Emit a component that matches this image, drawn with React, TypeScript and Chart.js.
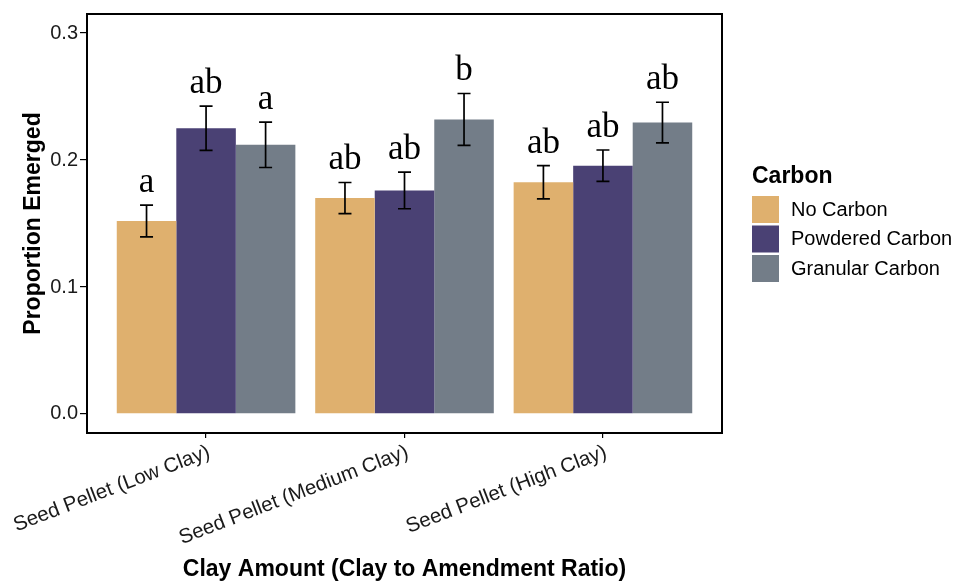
import React, { useEffect, useRef } from "react";
import { Chart, registerables } from "chart.js";

Chart.register(...registerables);

const categories = ["Seed Pellet (Low Clay)", "Seed Pellet (Medium Clay)", "Seed Pellet (High Clay)"];
const seriesNames = ["No Carbon", "Powdered Carbon", "Granular Carbon"];
const seriesColors = ["#DFB06E", "#4A4174", "#737D88"];

const noCarbon = [0.152, 0.170, 0.1825];
const powderedCarbon = [0.225, 0.176, 0.1955];
const granularCarbon = [0.212, 0.232, 0.2295];

const noCarbonSE = [0.0125, 0.0123, 0.0131];
const powderedCarbonSE = [0.0174, 0.0144, 0.0124];
const granularCarbonSE = [0.0179, 0.0204, 0.016];

const noCarbonLetters = ["a", "ab", "ab"];
const powderedCarbonLetters = ["ab", "ab", "ab"];
const granularCarbonLetters = ["a", "b", "ab"];

const yTicks = [0, 0.1, 0.2, 0.3];

const values = [noCarbon, powderedCarbon, granularCarbon];
const ses = [noCarbonSE, powderedCarbonSE, granularCarbonSE];
const letters = [noCarbonLetters, powderedCarbonLetters, granularCarbonLetters];

const SANS = '"Liberation Sans", Arial, sans-serif';
const SERIF = '"Liberation Serif", "Times New Roman", serif';

const overlayPlugin = {
  id: "overlay",
  afterDatasetsDraw(chart: any) {
    const { ctx, chartArea, scales } = chart;
    const yScale = scales.y;
    ctx.save();
    values.forEach((series, di) => {
      const meta = chart.getDatasetMeta(di);
      series.forEach((v, i) => {
        const bar = meta.data[i];
        const x = bar.x;
        const hi = yScale.getPixelForValue(v + ses[di][i]);
        const lo = yScale.getPixelForValue(v - ses[di][i]);
        ctx.strokeStyle = "#000";
        ctx.lineWidth = 1.7;
        ctx.beginPath();
        ctx.moveTo(x, hi);
        ctx.lineTo(x, lo);
        ctx.moveTo(x - 6.5, hi);
        ctx.lineTo(x + 6.5, hi);
        ctx.moveTo(x - 6.5, lo);
        ctx.lineTo(x + 6.5, lo);
        ctx.stroke();
        ctx.fillStyle = "#000";
        ctx.font = `35px ${SERIF}`;
        ctx.textAlign = "center";
        ctx.textBaseline = "alphabetic";
        ctx.fillText(letters[di][i], x, hi - 13);
      });
    });
    ctx.strokeStyle = "#000";
    ctx.lineWidth = 2;
    ctx.strokeRect(chartArea.left, chartArea.top, chartArea.right - chartArea.left, chartArea.bottom - chartArea.top);
    ctx.restore();
  },
  afterDraw(chart: any) {
    const { ctx } = chart;
    ctx.save();
    ctx.fillStyle = "#000";
    ctx.textAlign = "left";
    ctx.textBaseline = "alphabetic";
    ctx.font = `bold 23px ${SANS}`;
    ctx.fillText("Carbon", 752, 183);
    seriesNames.forEach((name, i) => {
      const top = 196 + i * 29.5;
      ctx.fillStyle = seriesColors[i];
      ctx.fillRect(752, top, 27, 27);
      ctx.fillStyle = "#000";
      ctx.font = `20px ${SANS}`;
      ctx.textBaseline = "middle";
      ctx.fillText(name, 791, top + 14);
    });
    ctx.restore();
  },
};

export default function App() {
  const canvasRef = useRef<HTMLCanvasElement | null>(null);

  useEffect(() => {
    if (!canvasRef.current) return;
    const chart = new Chart(canvasRef.current, {
      type: "bar",
      data: {
        datasets: seriesNames.map((name, di) => ({
          label: name,
          data: values[di].map((v, i) => ({ x: i, y: v })),
          backgroundColor: seriesColors[di],
          borderWidth: 0,
          categoryPercentage: 0.9,
          barPercentage: 1,
        })),
      },
      options: {
        animation: false,
        responsive: true,
        maintainAspectRatio: false,
        layout: { padding: { left: 0, top: 13, right: 235, bottom: 0 } },
        plugins: {
          legend: { display: false },
          tooltip: { enabled: false },
        },
        scales: {
          x: {
            type: "linear",
            min: -0.6,
            max: 2.6,
            offset: false,
            afterBuildTicks: (scale: any) => {
              scale.ticks = categories.map((_, i) => ({ value: i }));
            },
            afterFit: (scale: any) => {
              scale.height = 148;
              scale.paddingLeft = 0;
              scale.paddingRight = 0;
            },
            border: { display: false },
            grid: { offset: false, drawOnChartArea: false, tickLength: 5, color: "#000", lineWidth: 1.2 },
            ticks: {
              callback: (v: any) => categories[Math.round(Number(v))] ?? "",
              minRotation: 21,
              maxRotation: 21,
              labelOffset: 3,
              padding: 2,
              color: "#1a1a1a",
              font: { family: SANS, size: 20.5 },
            },
            title: {
              display: true,
              text: "Clay Amount (Clay to Amendment Ratio)",
              color: "#000",
              font: { family: SANS, size: 23, weight: "bold", lineHeight: 1 },
              padding: { top: 0, bottom: 0 },
            },
          },
          y: {
            min: -0.015,
            max: 0.315,
            afterBuildTicks: (scale: any) => {
              scale.ticks = yTicks.map((v) => ({ value: v }));
            },
            afterFit: (scale: any) => {
              scale.width = 87;
            },
            border: { display: false },
            grid: { drawOnChartArea: false, tickLength: 7, color: "#000", lineWidth: 1.2 },
            ticks: {
              callback: (v: any) => Number(v).toFixed(1),
              padding: 2,
              color: "#1a1a1a",
              font: { family: SANS, size: 20 },
            },
            title: {
              display: true,
              text: "Proportion Emerged",
              color: "#000",
              font: { family: SANS, size: 23, weight: "bold", lineHeight: 1 },
              padding: { top: 22.5, bottom: 0 },
            },
          },
        },
      } as any,
      plugins: [overlayPlugin],
    });
    return () => chart.destroy();
  }, []);

  return (
    <div style={{ position: "fixed", left: 0, top: 0, width: 957, height: 581, background: "#fff" }}>
      <canvas ref={canvasRef} />
    </div>
  );
}
